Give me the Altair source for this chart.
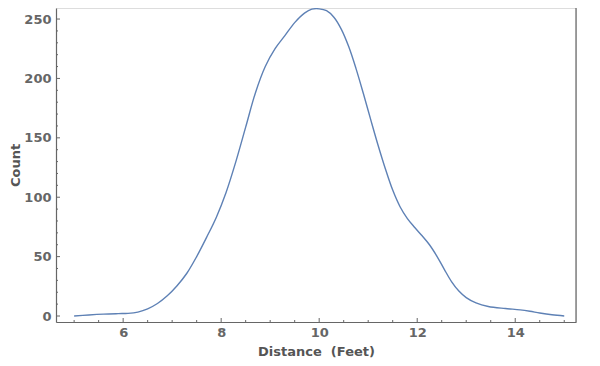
import altair as alt
import pandas as pd

# Curve values
distance = [5.0, 5.3, 5.6, 5.9, 6.1, 6.3, 6.5, 6.7, 6.9, 7.1, 7.3, 7.5, 7.7, 7.9,
            8.1, 8.3, 8.5, 8.7, 8.9, 9.1, 9.3, 9.5, 9.7, 9.85, 10.0,
            10.15, 10.3, 10.45, 10.6, 10.75, 10.9, 11.05, 11.2, 11.35, 11.5,
            11.65, 11.8, 11.95, 12.1, 12.25, 12.4, 12.55, 12.7, 12.85, 13.0,
            13.2, 13.45, 13.8, 14.1, 14.3, 14.5, 14.75, 15.0]
count = [0, 0.9, 1.6, 2.0, 2.2, 3.3, 6, 10.5, 17, 25.5, 36, 50, 66, 83,
         104, 130, 159, 188, 210, 225, 236, 247, 255, 258.3, 258.6,
         257, 251.5, 241.5, 227, 208.5, 187.5, 165.5, 144, 124, 106,
         92, 82, 74.5, 67.5, 60, 50.5, 39.5, 29, 21, 15.5,
         11, 8, 6.3, 5.2, 4, 2.5, 1, 0]

x_major = [6, 8, 10, 12, 14]
x_minor = [5.0, 5.5, 6.5, 7.0, 7.5, 8.5, 9.0, 9.5, 10.5, 11.0, 11.5, 12.5, 13.0, 13.5, 14.5, 15.0]
y_major = [0, 50, 100, 150, 200, 250]
y_minor = [10, 20, 30, 40, 60, 70, 80, 90, 110, 120, 130, 140, 160, 170, 180, 190,
           210, 220, 230, 240]

W, H = 520, 314
x_dom = [4.63, 15.24]
y_dom = [-5.05, 259.3]
frame = "#666666"

df = pd.DataFrame({"d": distance, "c": count})
xs = alt.Scale(domain=x_dom, nice=False, zero=False)
ys = alt.Scale(domain=y_dom, nice=False, zero=False)

line = alt.Chart(df).mark_line(color="#5E81B5", strokeWidth=1.4, interpolate="catmull-rom", clip=False).encode(
    x=alt.X("d:Q", scale=xs, title="Distance\u00a0\u00a0(Feet)",
            axis=alt.Axis(values=x_major, ticks=False, tickSize=0, grid=False,
                          domainColor=frame, domainWidth=1.2,
                          labelColor=frame, labelFont="DejaVu Sans", labelFontSize=13,
                          labelFontWeight="bold", labelPadding=4,
                          titleColor="#555555", titleFont="DejaVu Sans", titleFontSize=13,
                          titleFontWeight="bold", titlePadding=6)),
    y=alt.Y("c:Q", scale=ys, title="Count",
            axis=alt.Axis(values=y_major, ticks=False, tickSize=0, grid=False,
                          domainColor=frame, domainWidth=1.2,
                          labelColor=frame, labelFont="DejaVu Sans", labelFontSize=13,
                          labelFontWeight="bold", labelPadding=5,
                          titleColor="#555555", titleFont="DejaVu Sans", titleFontSize=13,
                          titleFontWeight="bold", titlePadding=1)),
)

def xticks(vals, length):
    return alt.Chart(pd.DataFrame({"v": vals})).mark_rule(color=frame, strokeWidth=1).encode(
        x=alt.X("v:Q", scale=xs), y=alt.value(H), y2=alt.value(H - length))

def yticks(vals, length):
    return alt.Chart(pd.DataFrame({"v": vals})).mark_rule(color=frame, strokeWidth=1).encode(
        y=alt.Y("v:Q", scale=ys), x=alt.value(0), x2=alt.value(length))

right = alt.Chart(pd.DataFrame({"v": [0]})).mark_rule(color=frame, strokeWidth=1.2).encode(
    x=alt.value(W), y=alt.value(0), y2=alt.value(H))

chart = alt.layer(
    line, xticks(x_major, 4), xticks(x_minor, 2), yticks(y_major, 4), yticks(y_minor, 2), right
).properties(
    width=W, height=H,
    autosize=alt.AutoSizeParams(type="none"),
    padding={"left": 48, "top": 0, "right": 16, "bottom": 36},
).configure_view(strokeWidth=0, stroke="transparent").configure(background="white")

chart.save("out.html", embed_options={"renderer": "svg", "actions": False})
